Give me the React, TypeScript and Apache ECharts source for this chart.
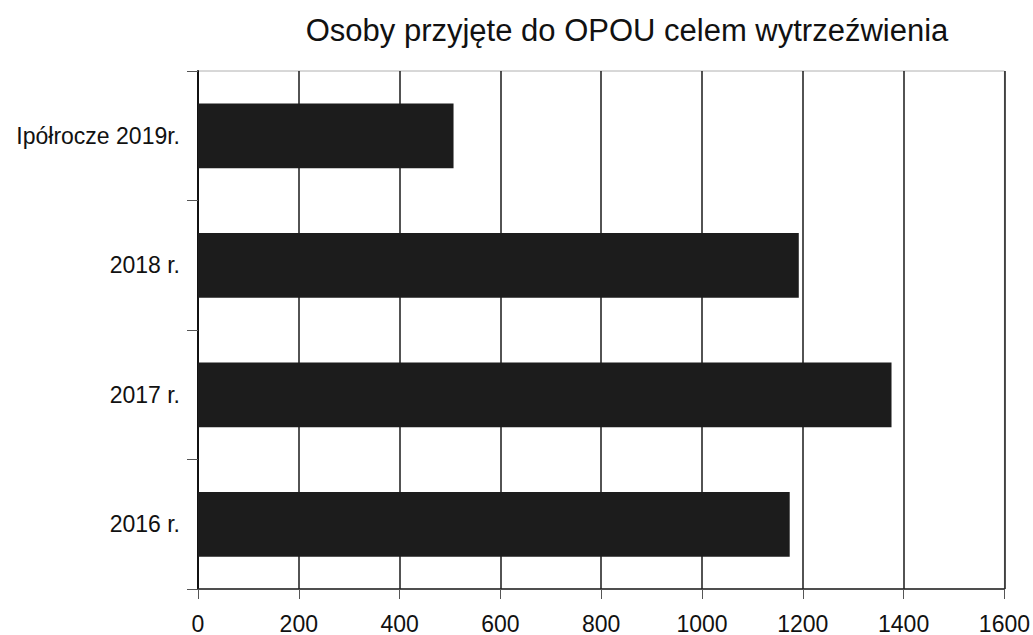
import React, { useEffect, useRef } from "react";
import * as echarts from "echarts";

const categories = ["2016 r.", "2017 r.", "2018 r.", "Ipółrocze 2019r."];
const values = [1174, 1376, 1192, 507];
const xTicks = [0, 200, 400, 600, 800, 1000, 1200, 1400, 1600];
const titleText = "Osoby przyjęte do OPOU celem wytrzeźwienia";

export default function App() {
  const ref = useRef<HTMLDivElement>(null);
  useEffect(() => {
    document.body.style.margin = "0";
    const chart = echarts.init(ref.current!, undefined, { renderer: "svg" });
    chart.setOption({
      animation: false,
      backgroundColor: "#ffffff",
      textStyle: { fontFamily: "Liberation Sans, Arial, sans-serif" },
      title: {
        text: titleText,
        left: 622,
        top: 10,
        textAlign: "center",
        textStyle: {
          fontSize: 31,
          fontWeight: "normal",
          color: "#111",
          fontFamily: "Liberation Sans, Arial, sans-serif",
        },
      },
      grid: {
        left: 198,
        right: 27,
        top: 71,
        bottom: 43,
        show: true,
        borderColor: "#b0b0b0",
        borderWidth: 1,
      },
      xAxis: {
        type: "value",
        min: xTicks[0],
        max: xTicks[xTicks.length - 1],
        interval: 200,
        axisLine: { show: true, lineStyle: { color: "#222", width: 1.5 } },
        axisTick: { show: true, length: 10, lineStyle: { color: "#555" } },
        axisLabel: {
          margin: 23,
          fontSize: 23,
          color: "#111",
          fontFamily: "Liberation Sans, Arial, sans-serif",
          formatter: (v: number) => String(v),
        },
        splitLine: { show: true, lineStyle: { color: "#1a1a1a", width: 1.5 } },
      },
      yAxis: {
        type: "category",
        data: categories,
        axisLine: { show: true, lineStyle: { color: "#111", width: 2 } },
        axisTick: { show: true, length: 11, lineStyle: { color: "#555" } },
        axisLabel: {
          margin: 18,
          fontSize: 23,
          color: "#111",
          fontFamily: "Liberation Sans, Arial, sans-serif",
        },
        splitLine: { show: false },
      },
      series: [
        {
          type: "bar",
          data: values,
          barWidth: "50%",
          itemStyle: { color: "#1c1c1c" },
        },
      ],
    });
    return () => chart.dispose();
  }, []);
  return <div ref={ref} style={{ width: 1033, height: 635 }} />;
}
